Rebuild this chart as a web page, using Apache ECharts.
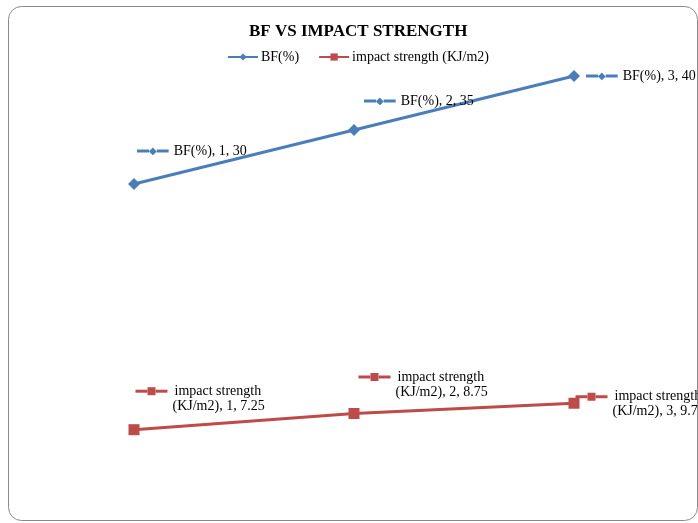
<!DOCTYPE html>
<html>
<head>
<meta charset="utf-8">
<script src="https://cdn.jsdelivr.net/npm/echarts@6/dist/echarts.min.js"></script>
<style>
  html, body { margin: 0; padding: 0; background: #fff; }
  #chart { width: 698px; height: 523px; }
</style>
</head>
<body>
<div id="chart"></div>
<script>
// Sample numbers and measured values
const categories = ['1', '2', '3'];
const bfValues = [30, 35, 40];
const impactValues = [7.25, 8.75, 9.7];
const bfName = 'BF(%)';
const impactName = 'impact strength (KJ/m2)';

const BLUE = '#4a7ebb';
const RED = '#be4b48';
const FONT = '"Liberation Serif", "Times New Roman", serif';

// Per-point label offsets (x, y) from the marker
const bfOffsets = [[-3, -33], [4, -29], [6, 0]];
const impactOffsets = [[-4, -31], [-1, -29], [-4, 1]];

function keyRich(color, diamond, gap) {
  return {
    ln: { width: 12, height: 3, backgroundColor: color },
    mk: diamond
      ? { fontFamily: 'DejaVu Sans', fontSize: 10, color: color }
      : { width: 8, height: 8, backgroundColor: color },
    t: { fontFamily: FONT, fontSize: 14, color: '#000', padding: [0, 0, 0, gap], lineHeight: 15 },
    sp: { width: 30, height: 2 }
  };
}

const chart = echarts.init(document.getElementById('chart'));

chart.setOption({
  backgroundColor: '#fff',
  animation: false,
  title: {
    text: 'BF VS IMPACT STRENGTH',
    left: 244,
    top: 18,
    textStyle: { fontFamily: FONT, fontSize: 17, fontWeight: 'bold', color: '#000' }
  },
  legend: {
    left: 222,
    top: 45,
    itemWidth: 30,
    itemHeight: 9,
    itemGap: 19,
    textStyle: { fontFamily: FONT, fontSize: 14, color: '#000', padding: [0, 0, 0, -2] },
    data: [bfName, impactName]
  },
  grid: { left: 24, right: 14, top: 76, bottom: 15 },
  xAxis: {
    type: 'category',
    data: categories,
    boundaryGap: true,
    show: false
  },
  yAxis: {
    type: 'value',
    min: 0,
    max: 40,
    show: false
  },
  graphic: [{
    type: 'rect',
    shape: { x: 8.5, y: 6.5, width: 689, height: 514, r: 13 },
    style: { fill: 'none', stroke: '#8a8a8a', lineWidth: 1 },
    silent: true
  }],
  series: [
    {
      name: bfName,
      type: 'line',
      data: bfValues.map((v, i) => ({
        value: v,
        label: { offset: bfOffsets[i] }
      })),
      symbol: 'diamond',
      symbolSize: 12,
      lineStyle: { color: BLUE, width: 3 },
      itemStyle: { color: BLUE },
      label: {
        show: true,
        position: 'right',
        distance: 0,
        align: 'left',
        verticalAlign: 'middle',
        formatter: p => '{ln|}{mk|◆}{ln|}{t|' + bfName + ', ' + p.name + ', ' + p.value + '}',
        rich: keyRich(BLUE, true, 5)
      }
    },
    {
      name: impactName,
      type: 'line',
      data: impactValues.map((v, i) => ({
        value: v,
        label: { offset: impactOffsets[i] }
      })),
      symbol: 'rect',
      symbolSize: 11,
      lineStyle: { color: RED, width: 3 },
      itemStyle: { color: RED },
      label: {
        show: true,
        position: 'right',
        distance: 0,
        align: 'left',
        verticalAlign: 'middle',
        formatter: p => '{ln|}{mk|}{ln|}{t|impact strength}\n{sp|}{t|(KJ/m2), ' + p.name + ', ' + p.value + '}',
        rich: keyRich(RED, false, 7)
      }
    }
  ]
});
</script>
</body>
</html>
